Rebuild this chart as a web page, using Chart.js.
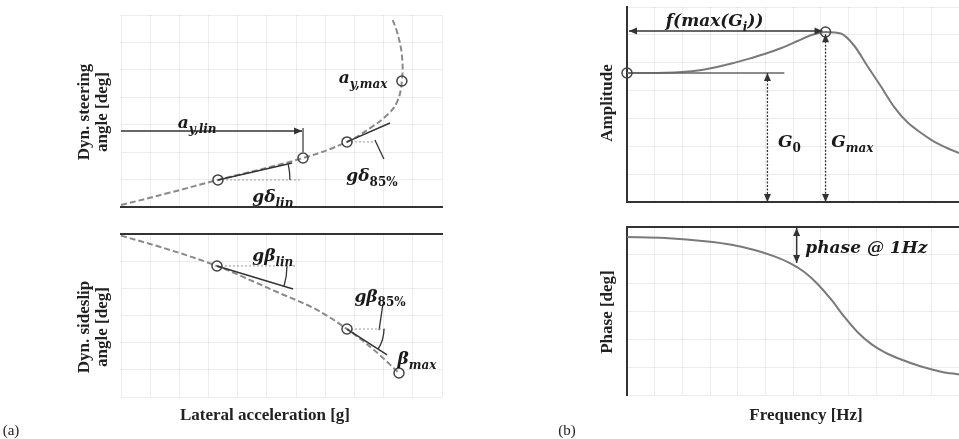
<!DOCTYPE html>
<html>
<head>
<meta charset="utf-8">
<script src="https://cdn.jsdelivr.net/npm/chart.js@4.4.1/dist/chart.umd.min.js"></script>
<style>
  body { margin: 0; background: #fff; }
  #wrap { position: relative; width: 959px; height: 439px; overflow: hidden; background: #fff; }
  canvas { position: absolute; }
  .t { position: absolute; font: bold 17px "Liberation Serif", serif; color: #222; white-space: nowrap;
       transform: translate(-50%, -50%); line-height: 18px; text-align: center; }
  .rot { transform: translate(-50%, -50%) rotate(-90deg); }
  .tag { font-weight: normal; font-size: 15px; }
</style>
</head>
<body>
<div id="wrap">
  <canvas id="steer" width="480" height="222" style="left:0;top:0"></canvas>
  <canvas id="slip" width="480" height="190" style="left:0;top:220px"></canvas>
  <canvas id="amp" width="479" height="215" style="left:480px;top:0"></canvas>
  <canvas id="phase" width="479" height="190" style="left:480px;top:215px"></canvas>

  <div class="t rot" style="left:93px;top:112px">Dyn. steering<br>angle [deg]</div>
  <div class="t rot" style="left:93px;top:327px">Dyn. sideslip<br>angle [deg]</div>
  <div class="t" style="left:265px;top:415px">Lateral acceleration [g]</div>
  <div class="t tag" style="left:11px;top:430px">(a)</div>
  <div class="t rot" style="left:607px;top:103px">Amplitude</div>
  <div class="t rot" style="left:607px;top:312px">Phase [deg]</div>
  <div class="t" style="left:806px;top:415px">Frequency [Hz]</div>
  <div class="t tag" style="left:567px;top:430px">(b)</div>
</div>
<script>
const GRID = 'rgba(0,0,0,0.07)';
const INK = '#333';
const CURVE = '#8a8a8a';

// (a) top: dynamic steering angle over lateral acceleration
const steerAcc   = [0, 0.15, 0.302, 0.567, 0.704, 0.776, 0.829, 0.860, 0.875, 0.875, 0.860, 0.844];
const steerAngle = [1, 7.4, 14.1, 25.5, 33.9, 41.1, 47.9, 54.7, 65.6, 79.2, 91.1, 98.4];
const steerMarkAcc   = [0.302, 0.567, 0.704, 0.875];
const steerMarkAngle = [14.1, 25.5, 33.9, 65.6];
const steerTanLin  = [[0.302, 14.1], [0.533, 22.9]];
const steerTan85   = [[0.704, 33.9], [0.838, 43.75]];
const steerLvlLin  = [[0.302, 14.1], [0.558, 14.1]];
const steerLvl85   = [[0.704, 33.9], [0.785, 33.9]];
const steerLinArrow = [[0, 39.6], [0.564, 39.6]];
const steerLinTick  = [[0.567, 41.1], [0.567, 28.6]];
const steerLeader85 = [[0.791, 34.9], [0.819, 25.0]];
const steerLabels = [
  [0.237, 43.2, 'a_{y,lin}'],
  [0.754, 66.7, 'a_{y,max}'],
  [0.782, 15.6, 'gδ_{85%}'],
  [0.473, 4.7, 'gδ_{lin}']
];

// (a) bottom: dynamic sideslip angle over lateral acceleration
const slipAcc   = [0, 0.153, 0.299, 0.486, 0.611, 0.704, 0.785, 0.866];
const slipAngle = [-0.1, -0.98, -1.96, -3.56, -4.66, -5.83, -7.06, -8.53];
const slipMarkAcc   = [0.299, 0.704, 0.866];
const slipMarkAngle = [-1.96, -5.83, -8.53];
const slipTanLin = [[0.299, -1.96], [0.536, -3.37]];
const slipTan85  = [[0.704, -5.83], [0.829, -7.42]];
const slipLvlLin = [[0.299, -1.96], [0.542, -1.96]];
const slipLvl85  = [[0.704, -5.83], [0.829, -5.83]];
const slipLeader85 = [[0.816, -4.29], [0.804, -5.9]];
const slipLabels = [
  [0.473, -1.41, 'gβ_{lin}'],
  [0.807, -3.87, 'gβ_{85%}'],
  [0.922, -7.73, 'β_{max}']
];

// (b) top: amplitude over frequency
const ampFreq = [0, 0.63, 1.65, 2.25, 2.64, 3.15, 3.63, 4.14, 4.65, 5.14, 5.56, 5.98,
                 6.46, 6.85, 7.24, 7.66, 8.05, 8.44, 8.86, 9.25, 9.64, 10];
const ampGain = [1.323, 1.323, 1.333, 1.355, 1.38, 1.42, 1.465, 1.518, 1.580, 1.651, 1.713, 1.744,
                 1.725, 1.600, 1.395, 1.179, 0.974, 0.820, 0.708, 0.620, 0.554, 0.503];
const ampMarkFreq = [0, 5.98];
const ampMarkGain = [1.323, 1.744];
const ampG0Level  = [[0, 1.323], [4.74, 1.323]];
const ampPeakArrow = [[0.06, 1.754], [5.89, 1.754]];
const ampG0Arrow   = [[4.23, 1.323], [4.23, 0]];
const ampGmaxArrow = [[5.98, 1.72], [5.98, 0]];
const ampLabels = [
  [2.64, 1.846, 'f(max(G_{i}))'],
  [4.89, 0.605, 'G_{0}'],
  [6.79, 0.605, 'G_{max}']
];

// (b) bottom: phase over frequency
const phaseFreq  = [0, 1.14, 2.43, 3.15, 3.84, 4.44, 4.95, 5.35, 5.74, 6.16, 6.55, 6.94, 7.36, 7.75, 8.26, 8.86, 9.46, 10];
const phaseAngle = [-10.7, -11.8, -15.5, -19.0, -24.6, -31.5, -39.5, -48.5, -61.0, -78.2, -96.4, -112.5, -125.5, -134.0, -142.0, -149.5, -155.0, -158.0];
const phaseArrow = [[5.11, -1.1], [5.11, -38.6]];
const phaseLabels = [[7.21, -23.6, 'phase @ 1Hz']];

const pts = (xs, ys) => xs.map((x, i) => ({ x, y: ys[i] }));
const pairs = (p) => p.map(([x, y]) => ({ x, y }));

function line(p, color, width, dash, extra) {
  return Object.assign({
    data: pairs(p), showLine: true, pointRadius: 0, borderColor: color,
    borderWidth: width, borderDash: dash || [], clip: false, tension: 0
  }, extra || {});
}
function curve(xs, ys, color, dash, mono) {
  return {
    data: pts(xs, ys), showLine: true, pointRadius: 0, borderColor: color,
    borderWidth: 2, borderDash: dash || [], tension: 0.4, clip: false,
    cubicInterpolationMode: mono ? 'monotone' : 'default'
  };
}
function marks(xs, ys) {
  return {
    data: pts(xs, ys), showLine: false, pointRadius: 5, pointStyle: 'circle',
    borderColor: '#444', borderWidth: 1.5, backgroundColor: 'rgba(255,255,255,0)', clip: false
  };
}

function drawMath(ctx, text, cx, cy) {
  const size = 17, sub = 12;
  const runs = [];
  let i = 0;
  while (i < text.length) {
    if (text.startsWith('_{', i)) {
      const j = text.indexOf('}', i);
      runs.push({ t: text.slice(i + 2, j), sub: true });
      i = j + 1;
    } else {
      let j = text.indexOf('_{', i);
      if (j < 0) j = text.length;
      runs.push({ t: text.slice(i, j), sub: false });
      i = j;
    }
  }
  const fontFor = (r) => r.sub
    ? (/^[0-9]/.test(r.t) ? `bold ${sub}px "DejaVu Serif"` : `italic bold ${sub}px "DejaVu Serif"`)
    : `italic bold ${size}px "DejaVu Serif"`;
  let total = 0;
  runs.forEach(r => { ctx.font = fontFor(r); r.w = ctx.measureText(r.t).width; total += r.w; });
  let x = cx - total / 2;
  ctx.save();
  ctx.fillStyle = '#1a1a1a';
  ctx.textBaseline = 'middle';
  ctx.textAlign = 'left';
  runs.forEach(r => {
    ctx.font = fontFor(r);
    ctx.fillText(r.t, x, r.sub ? cy + 6 : cy);
    x += r.w;
  });
  ctx.restore();
}

function arrowHead(ctx, from, to, color) {
  const a = Math.atan2(to.y - from.y, to.x - from.x), L = 8, W = 3.5;
  ctx.save();
  ctx.fillStyle = color;
  ctx.beginPath();
  ctx.moveTo(to.x, to.y);
  ctx.lineTo(to.x - L * Math.cos(a) + W * Math.sin(a), to.y - L * Math.sin(a) - W * Math.cos(a));
  ctx.lineTo(to.x - L * Math.cos(a) - W * Math.sin(a), to.y - L * Math.sin(a) + W * Math.cos(a));
  ctx.closePath();
  ctx.fill();
  ctx.restore();
}

function sketch(labels) {
  return {
    id: 'sketch',
    afterDatasetsDraw(chart) {
      const ctx = chart.ctx;
      chart.data.datasets.forEach((ds, i) => {
        const p = chart.getDatasetMeta(i).data;
        if (ds.arrow) {
          const n = p.length;
          arrowHead(ctx, p[n - 2], p[n - 1], ds.borderColor);
          if (ds.arrow === 'both') arrowHead(ctx, p[1], p[0], ds.borderColor);
        }
        if (ds.arcRadius) {
          const a = Math.atan2(p[1].y - p[0].y, p[1].x - p[0].x);
          ctx.save();
          ctx.strokeStyle = INK;
          ctx.lineWidth = 1.3;
          ctx.beginPath();
          ctx.arc(p[0].x, p[0].y, ds.arcRadius, Math.min(0, a), Math.max(0, a));
          ctx.stroke();
          ctx.restore();
        }
      });
      labels.forEach(([x, y, t]) => {
        drawMath(ctx, t, chart.scales.x.getPixelForValue(x), chart.scales.y.getPixelForValue(y));
      });
    }
  };
}

function axis(min, max, count, pos, border) {
  return {
    type: 'linear', position: pos, min, max,
    ticks: { display: false, count },
    grid: { color: GRID, drawTicks: false, lineWidth: 1 },
    border: border ? { display: true, color: INK, width: 2 } : { display: false }
  };
}

function panel(id, datasets, labels, pad, x, y) {
  return new Chart(document.getElementById(id), {
    type: 'scatter',
    data: { datasets },
    options: {
      responsive: false,
      animation: false,
      events: [],
      layout: { padding: pad, autoPadding: false },
      plugins: { legend: { display: false }, tooltip: { enabled: false } },
      scales: { x, y }
    },
    plugins: [sketch(labels)]
  });
}

panel('steer', [
  marks(steerMarkAcc, steerMarkAngle),
  line(steerTanLin, INK, 1.5, [], { arcRadius: 72 }),
  line(steerTan85, INK, 1.5),
  line(steerLvlLin, '#999', 1, [2, 2]),
  line(steerLvl85, '#999', 1, [2, 2]),
  line(steerLinArrow, INK, 1.5, [], { arrow: 'end' }),
  line(steerLinTick, INK, 1.2),
  line(steerLeader85, INK, 1.3),
  curve(steerAcc, steerAngle, CURVE, [6, 3], false)
], steerLabels, { left: 121, top: 15, right: 38, bottom: 15 },
  axis(0, 1, 12, 'bottom', true), axis(0, 100, 8, 'left', false));

panel('slip', [
  marks(slipMarkAcc, slipMarkAngle),
  line(slipTanLin, INK, 1.5, [], { arcRadius: 70 }),
  line(slipTan85, INK, 1.5, [], { arcRadius: 37 }),
  line(slipLvlLin, '#999', 1, [2, 2]),
  line(slipLvl85, '#999', 1, [2, 2]),
  line(slipLeader85, INK, 1.3),
  curve(slipAcc, slipAngle, CURVE, [6, 3], true)
], slipLabels, { left: 121, top: 14, right: 38, bottom: 13 },
  axis(0, 1, 12, 'top', true), axis(-10, 0, 7, 'left', false));

panel('amp', [
  marks(ampMarkFreq, ampMarkGain),
  line(ampPeakArrow, INK, 1.3, [], { arrow: 'both' }),
  line(ampG0Arrow, INK, 1.3, [2, 1.5], { arrow: 'both' }),
  line(ampGmaxArrow, INK, 1.3, [2, 1.5], { arrow: 'both' }),
  line(ampG0Level, '#666', 1.5),
  curve(ampFreq, ampGain, '#7a7a7a', [], true)
], ampLabels, { left: 147, top: 7, right: 0, bottom: 13 },
  axis(0, 10, 13, 'bottom', true), axis(0, 2, 8, 'left', true));

panel('phase', [
  line(phaseArrow, INK, 1.5, [], { arrow: 'both' }),
  curve(phaseFreq, phaseAngle, '#7a7a7a', [], true)
], phaseLabels, { left: 147, top: 12, right: 0, bottom: 10 },
  axis(0, 10, 13, 'top', true), axis(-180, 0, 7, 'left', true));
</script>
</body>
</html>
